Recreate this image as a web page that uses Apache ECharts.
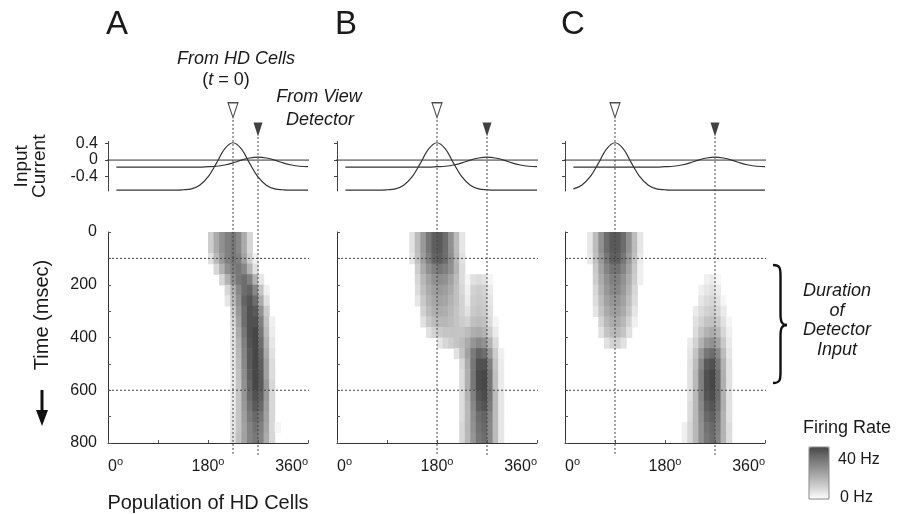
<!DOCTYPE html>
<html><head><meta charset="utf-8">
<script src="https://cdn.jsdelivr.net/npm/echarts@6/dist/echarts.min.js"></script>
<style>html,body{margin:0;padding:0;background:#fff}#c{width:902px;height:514px}</style>
</head><body><div id="c"></div>
<script>
// ---------------- data ----------------
const panelLetters = ['A', 'B', 'C'];
const angleLabelTicks = [0, 180, 360];
const timeLabelTicks = [0, 200, 400, 600, 800];
const currentTicks = [-0.4, 0, 0.4];

// input-current curves sampled every 15 degrees
const curveAngles = [15,30,45,60,75,90,105,120,135,150,165,180,195,210,225,240,255,270,285,300,315,330,345,360];
const hdInputA = [-0.73,-0.73,-0.73,-0.73,-0.73,-0.73,-0.73,-0.73,-0.72,-0.70,-0.61,-0.41,-0.08,0.27,0.42,0.27,-0.08,-0.41,-0.61,-0.70,-0.72,-0.73,-0.73,-0.73];
const hdInputB = [-0.73,-0.73,-0.73,-0.73,-0.73,-0.72,-0.70,-0.61,-0.41,-0.08,0.27,0.42,0.27,-0.08,-0.41,-0.61,-0.70,-0.72,-0.73,-0.73,-0.73,-0.73,-0.73,-0.73];
const hdInputC = [-0.70,-0.61,-0.41,-0.08,0.27,0.42,0.27,-0.08,-0.41,-0.61,-0.70,-0.72,-0.73,-0.73,-0.73,-0.73,-0.73,-0.73,-0.73,-0.73,-0.73,-0.73,-0.73,-0.73];
const viewInputA = [-0.17,-0.17,-0.17,-0.17,-0.17,-0.17,-0.17,-0.17,-0.17,-0.17,-0.17,-0.16,-0.15,-0.12,-0.07,0.00,0.05,0.07,0.05,0.00,-0.07,-0.12,-0.15,-0.16];
const viewInputB = [-0.17,-0.17,-0.17,-0.17,-0.17,-0.17,-0.17,-0.17,-0.17,-0.17,-0.17,-0.16,-0.15,-0.12,-0.07,0.00,0.05,0.07,0.05,0.00,-0.07,-0.12,-0.15,-0.16];
const viewInputC = [-0.17,-0.17,-0.17,-0.17,-0.17,-0.17,-0.17,-0.17,-0.17,-0.17,-0.17,-0.16,-0.15,-0.12,-0.07,0.00,0.05,0.07,0.05,0.00,-0.07,-0.12,-0.15,-0.16];

const hdPeakAngles = [225, 180, 90];     // open triangles
const viewPeakAngles = [270, 270, 270];  // filled triangles
const detectorWindowMs = [100, 600];

// firing rate (Hz): one row per 40 ms, each row = [first 10-degree bin, rates...]
const binDeg = 10, rowMs = 40;
const rateA = [
  [18, 10,18,24,28,30,26,18,8],
  [18, 10,18,24,28,30,26,18,8],
  [18, 6,15,22,28,30,28,20,10,3],
  [19, 8,16,24,28,30,26,16,6],
  [20, 8,16,24,30,32,28,16,5],
  [21, 8,16,26,32,34,26,12,3],
  [21, 5,14,24,34,37,32,18,6],
  [22, 10,22,32,38,36,24,10],
  [22, 8,20,32,38,38,28,12,3],
  [22, 6,18,30,38,40,30,14,4],
  [22, 6,16,28,37,40,32,16,5],
  [22, 5,15,27,36,40,34,18,6],
  [22, 5,14,26,36,40,35,20,7],
  [22, 4,13,25,35,40,36,20,7],
  [22, 4,12,24,34,40,36,22,8],
  [22, 4,12,23,33,38,35,22,8],
  [22, 4,12,22,31,36,33,21,8],
  [22, 5,12,21,29,33,30,20,8],
  [22, 5,12,20,27,31,28,19,8,2],
  [22, 6,13,20,27,30,27,18,8]
];
const rateB = [
  [13, 6,14,22,30,35,36,32,24,14,5],
  [13, 6,14,22,30,35,36,32,24,14,5],
  [13, 5,13,21,28,34,35,32,25,15,6],
  [14, 10,18,24,28,30,28,24,16,7],
  [14, 8,15,20,24,25,24,20,14,7,2,6,7,6,2],
  [14, 7,13,18,21,22,21,18,13,8,3,9,10,9,4],
  [14, 5,11,16,19,20,19,16,13,9,4,10,11,10,5],
  [15, 9,14,17,18,17,15,12,9,6,11,12,11,6],
  [15, 6,11,14,15,15,14,12,10,9,13,14,13,7,2],
  [16, 6,9,11,12,12,12,12,14,17,18,16,10,4],
  [18, 5,8,10,12,14,18,23,26,24,16,7],
  [21, 6,12,20,29,34,32,22,10,3],
  [22, 8,18,30,38,38,28,12,4],
  [22, 7,17,30,39,40,30,13,4],
  [22, 7,17,30,39,40,30,13,4],
  [22, 7,16,28,37,39,30,14,5],
  [22, 7,15,26,35,37,29,14,5],
  [22, 7,15,25,32,34,27,14,5],
  [22, 8,15,24,31,33,26,14,5],
  [22, 8,15,23,30,32,26,14,5]
];
const rateCHd = [
  [4, 5,14,24,32,36,36,32,24,14,5],
  [4, 5,14,24,32,36,36,32,24,14,5],
  [4, 4,13,22,30,35,35,30,22,13,4],
  [5, 11,20,27,31,31,27,20,11,3],
  [5, 10,18,24,28,28,24,18,10,3],
  [5, 8,16,22,26,26,22,16,8],
  [5, 7,14,20,23,23,20,14,7],
  [5, 5,12,18,21,21,18,12,5],
  [6, 9,15,18,18,15,9,3],
  [6, 6,12,15,15,12,6],
  [7, 6,9,9,6],
  [], [], [], [], [], [], [], [], []
];
const rateCView = [
  [], [], [], [],
  [25, 3,4,2],
  [24, 3,5,6,4],
  [24, 5,7,8,6,2],
  [23, 4,7,9,10,8,4],
  [23, 6,9,12,13,11,6,2],
  [23, 7,12,16,18,15,8,3],
  [22, 4,9,16,22,24,20,11,4],
  [22, 5,12,22,30,32,26,14,5],
  [22, 6,14,26,36,38,30,16,6],
  [22, 6,15,28,38,40,32,17,6],
  [22, 6,15,28,38,40,32,17,6],
  [22, 6,15,27,37,39,32,17,6],
  [22, 7,15,26,35,37,31,17,6],
  [22, 7,15,25,33,35,29,16,6],
  [21, 3,8,15,24,31,33,28,16,7],
  [21, 3,8,15,24,30,32,27,16,7]
];

// ---------------- build ----------------
const FONT = '"Liberation Sans", Arial, Helvetica, sans-serif';
const INK = '#1a1a1a';
const LEFTS = [108, 337, 565];
const W = 200;
const TOP_T = 141.5, TOP_H = 49.5;
const HEAT_T = 232, HEAT_H = 211;

const hdInputs = [hdInputA, hdInputB, hdInputC];
const viewInputs = [viewInputA, viewInputB, viewInputC];
const rateSets = [[rateA], [rateB], [rateCHd, rateCView]];

function cellsFrom(sets) {
  const out = [];
  sets.forEach(rows => rows.forEach((row, r) => {
    if (!row.length) return;
    const first = row[0];
    for (let i = 1; i < row.length; i++) {
      if (row[i] > 0) out.push([(first + i - 1) * binDeg, r * rowMs, row[i]]);
    }
  }));
  return out;
}
function renderCell(params, api) {
  const a = api.value(0), t = api.value(1);
  const p0 = api.coord([a, t]);
  const p1 = api.coord([a + binDeg, t + rowMs]);
  return {
    type: 'rect',
    shape: { x: Math.min(p0[0], p1[0]), y: Math.min(p0[1], p1[1]),
             width: Math.abs(p1[0] - p0[0]) + 0.6, height: Math.abs(p1[1] - p0[1]) + 0.6 },
    style: { fill: api.visual('color') }
  };
}
const degRich = { n: { fontSize: 16, fontFamily: FONT, color: INK, lineHeight: 18 },
                  s: { fontSize: 11, fontFamily: FONT, color: INK, lineHeight: 11, padding: [0, 0, 10, 0] } };

const grid = [], xAxis = [], yAxis = [], series = [], heatSeriesIdx = [];
const dash = { color: '#444', width: 1, type: [2, 2] };

panelLetters.forEach((L, i) => {
  const left = LEFTS[i];
  const gTop = i * 2, gHeat = i * 2 + 1;
  grid.push({ left: left, width: W, top: TOP_T, height: TOP_H });
  grid.push({ left: left, width: W, top: HEAT_T, height: HEAT_H });

  xAxis.push({ gridIndex: gTop, type: 'value', min: 0, max: 360, show: false });
  xAxis.push({
    gridIndex: gHeat, type: 'value', min: 0, max: 360, interval: 90, z: 5,
    axisLine: { show: true, onZero: false, lineStyle: { color: '#333', width: 1 } },
    axisTick: { show: true, inside: true, length: 3, lineStyle: { color: '#555' } },
    splitLine: { show: false },
    axisLabel: {
      show: true, margin: 15, alignMinLabel: 'left', alignMaxLabel: 'right',
      formatter: v => angleLabelTicks.indexOf(v) >= 0 ? '{n|' + v + '}{s|o}' : '',
      rich: degRich
    },
    name: i === 0 ? 'Population of HD Cells' : '',
    nameLocation: 'middle', nameGap: 50,
    nameTextStyle: { fontSize: 20, fontFamily: FONT, color: INK }
  });

  yAxis.push({
    gridIndex: gTop, type: 'value', min: -0.75, max: 0.45,
    axisLine: { show: true, onZero: false, lineStyle: { color: '#444', width: 1 } },
    axisTick: { show: true, customValues: currentTicks, length: 3, lineStyle: { color: '#444' } },
    splitLine: { show: false },
    axisLabel: { show: i === 0, customValues: currentTicks, margin: 10,
      formatter: v => (v === 0 ? '0' : v.toFixed(1)),
      fontSize: 16, fontFamily: FONT, color: INK },
    name: i === 0 ? 'Input\nCurrent' : '',
    nameLocation: 'middle', nameRotate: 90, nameGap: 59,
    nameTextStyle: { fontSize: 19, lineHeight: 18, fontFamily: FONT, color: INK }
  });
  yAxis.push({
    gridIndex: gHeat, type: 'value', min: 0, max: 800, interval: 100, inverse: true, z: 5,
    axisLine: { show: true, onZero: false, lineStyle: { color: '#333', width: 1 } },
    axisTick: { show: true, inside: true, length: 3, lineStyle: { color: '#555' } },
    splitLine: { show: false },
    axisLabel: { show: i === 0, margin: 11,
      formatter: v => (timeLabelTicks.indexOf(v) >= 0 ? String(v) : ''),
      fontSize: 16, fontFamily: FONT, color: INK }
  });

  // firing-rate cells
  heatSeriesIdx.push(series.length);
  series.push({
    type: 'custom', xAxisIndex: gHeat, yAxisIndex: gHeat, z: 1, silent: true,
    renderItem: renderCell, encode: { x: 0, y: 1 }, data: cellsFrom(rateSets[i])
  });
  // input curves
  const hdPts = curveAngles.map((a, k) => [a, hdInputs[i][k]]);
  const viewPts = curveAngles.map((a, k) => [a, viewInputs[i][k]]);
  series.push({ type: 'line', xAxisIndex: gTop, yAxisIndex: gTop, data: hdPts, smooth: 0.35,
    symbol: 'none', lineStyle: { color: '#333', width: 1.2 }, silent: true, clip: false });
  series.push({ type: 'line', xAxisIndex: gTop, yAxisIndex: gTop, data: viewPts, smooth: 0.35,
    symbol: 'none', lineStyle: { color: '#333', width: 1.2 }, silent: true, clip: false });
  series.push({ type: 'line', xAxisIndex: gTop, yAxisIndex: gTop, data: [[-7, 0], [365, 0]],
    symbol: 'none', lineStyle: { color: '#333', width: 1 }, silent: true, clip: false });
  // triangles marking the input peaks
  series.push({ type: 'scatter', xAxisIndex: gTop, yAxisIndex: gTop, clip: false, silent: true,
    data: [[hdPeakAngles[i], 1.21]], symbol: 'triangle', symbolRotate: 180, symbolSize: [10, 15],
    itemStyle: { color: '#fff', borderColor: '#222', borderWidth: 1.2 }, z: 6 });
  series.push({ type: 'scatter', xAxisIndex: gTop, yAxisIndex: gTop, clip: false, silent: true,
    data: [[viewPeakAngles[i], 0.74]], symbol: 'triangle', symbolRotate: 180, symbolSize: [9, 14],
    itemStyle: { color: '#111' }, z: 6 });
  // dashed guide lines
  series.push({ type: 'line', xAxisIndex: gHeat, yAxisIndex: gHeat, clip: false, silent: true, z: 4,
    data: [[hdPeakAngles[i], -425], [hdPeakAngles[i], 846]], symbol: 'none', lineStyle: dash });
  series.push({ type: 'line', xAxisIndex: gHeat, yAxisIndex: gHeat, clip: false, silent: true, z: 4,
    data: [[viewPeakAngles[i], -360], [viewPeakAngles[i], 846]], symbol: 'none', lineStyle: dash });
  detectorWindowMs.forEach(t => {
    series.push({ type: 'line', xAxisIndex: gHeat, yAxisIndex: gHeat, clip: false, silent: true, z: 4,
      data: [[0, t], [370, t]], symbol: 'none', lineStyle: dash });
  });
});

function txt(text, x, y, size, opts) {
  return { type: 'text', silent: true, style: Object.assign({
    text: text, x: x, y: y, fontSize: size, fontFamily: FONT, fill: INK,
    align: 'center', verticalAlign: 'middle' }, opts || {}) };
}
const braceStroke = { stroke: '#111', lineWidth: 2.4, fill: null };
const graphics = [
  txt('A', 117, 25, 33), txt('B', 346, 25, 33), txt('C', 573, 25, 33),
  txt('From HD Cells', 236, 59, 18, { fontStyle: 'italic' }),
  { type: 'text', silent: true, style: { text: '{n|(}{i|t}{n| = 0)}', x: 226, y: 80,
      align: 'center', verticalAlign: 'middle', fill: INK,
      rich: { n: { fontSize: 18, fontFamily: FONT, fill: INK },
              i: { fontSize: 18, fontFamily: FONT, fontStyle: 'italic', fill: INK } } } },
  txt('From View', 319, 97, 18, { fontStyle: 'italic' }),
  txt('Detector', 320, 120, 18, { fontStyle: 'italic' }),
  txt('Duration', 837, 291, 18, { fontStyle: 'italic' }),
  txt('of', 837, 311, 18, { fontStyle: 'italic' }),
  txt('Detector', 837, 330, 18, { fontStyle: 'italic' }),
  txt('Input', 837, 350, 18, { fontStyle: 'italic' }),
  txt('Firing Rate', 847, 428, 18),
  txt('40 Hz', 838, 460, 16, { align: 'left' }),
  txt('0 Hz', 840, 498, 16, { align: 'left' }),
  { type: 'text', silent: true, x: 42, y: 315, rotation: Math.PI / 2,
    style: { text: 'Time (msec)', fontSize: 20, fontFamily: FONT, fill: INK, align: 'center', verticalAlign: 'middle' } },
  { type: 'rect', silent: true, z: 10, shape: { x: 809, y: 447, width: 20, height: 52 },
    style: { stroke: '#888', fill: null, lineWidth: 1 } },
  // brace
  { type: 'bezierCurve', silent: true, shape: { x1: 773, y1: 265, cpx1: 780, cpy1: 265, cpx2: 780.5, cpy2: 268, x2: 780.5, y2: 276 }, style: braceStroke },
  { type: 'line', silent: true, shape: { x1: 780.5, y1: 276, x2: 780.5, y2: 314 }, style: braceStroke },
  { type: 'bezierCurve', silent: true, shape: { x1: 780.5, y1: 314, cpx1: 780.5, cpy1: 322, cpx2: 782, cpy2: 325, x2: 787, y2: 325 }, style: braceStroke },
  { type: 'bezierCurve', silent: true, shape: { x1: 787, y1: 325, cpx1: 782, cpy1: 325, cpx2: 780.5, cpy2: 328, x2: 780.5, y2: 336 }, style: braceStroke },
  { type: 'line', silent: true, shape: { x1: 780.5, y1: 336, x2: 780.5, y2: 372 }, style: braceStroke },
  { type: 'bezierCurve', silent: true, shape: { x1: 780.5, y1: 372, cpx1: 780.5, cpy1: 380, cpx2: 780, cpy2: 383, x2: 773, y2: 383 }, style: braceStroke },
  // time arrow
  { type: 'line', silent: true, shape: { x1: 42, y1: 390, x2: 42, y2: 413 }, style: { stroke: '#111', lineWidth: 3 } },
  { type: 'polygon', silent: true, shape: { points: [[36, 410], [48, 410], [42, 426]] }, style: { fill: '#111' } }
];

const chart = echarts.init(document.getElementById('c'), null, { renderer: 'canvas' });
chart.setOption({
  animation: false,
  backgroundColor: '#fff',
  textStyle: { fontFamily: FONT },
  grid: grid, xAxis: xAxis, yAxis: yAxis, series: series,
  visualMap: {
    type: 'continuous', min: 0, max: 40, dimension: 2, seriesIndex: heatSeriesIdx,
    calculable: false, show: true, left: 809, top: 447, padding: 0,
    itemWidth: 20, itemHeight: 52, text: null, showLabel: false,
    inRange: { color: ['#ffffff', '#cdcdcd', '#a2a2a2', '#777777', '#474747'] }
  },
  graphic: { elements: graphics }
});
</script></body></html>
